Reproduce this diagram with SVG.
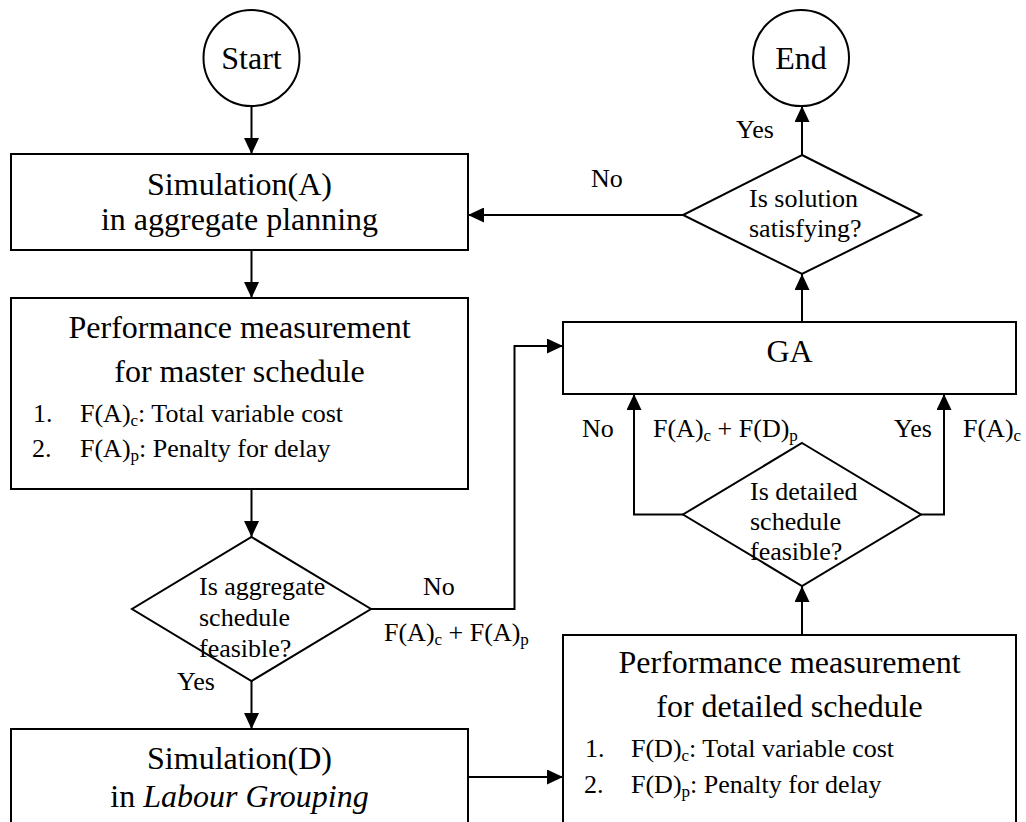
<svg xmlns="http://www.w3.org/2000/svg" width="1026" height="822" viewBox="0 0 1026 822">
  <defs>
    <marker id="arrow" markerUnits="userSpaceOnUse" markerWidth="16" markerHeight="15" refX="16" refY="7.5" orient="auto">
      <path d="M0,0 L16,7.5 L0,15 z" fill="#000"/>
    </marker>
    <style>
      .shape { fill: #fff; stroke: #000; stroke-width: 2; }
      .link { fill: none; stroke: #000; stroke-width: 2; }
      .arr { marker-end: url(#arrow); }
      text { font-family: "Liberation Serif", "Times New Roman", serif; fill: #000; }
      .big { font-size: 32px; }
      .mid { font-size: 26px; }
      .sub { font-size: 17px; }
      .c { text-anchor: middle; }
    </style>
  </defs>

  <rect width="1026" height="822" fill="#fff"/>

  <!-- connectors -->
  <g id="connectors">
    <line class="link arr" x1="251.5" y1="106" x2="251.5" y2="154"/>
    <line class="link arr" x1="251.5" y1="250" x2="251.5" y2="298"/>
    <line class="link arr" x1="251.5" y1="489" x2="251.5" y2="537"/>
    <line class="link arr" x1="251.5" y1="681" x2="251.5" y2="729"/>
    <polyline class="link arr" points="371,609 514.5,609 514.5,346 563,346"/>
    <line class="link arr" x1="468" y1="777" x2="563" y2="777"/>
    <line class="link arr" x1="802" y1="635" x2="802" y2="586"/>
    <polyline class="link arr" points="683,514.5 634,514.5 634,394"/>
    <polyline class="link arr" points="921,514.5 944,514.5 944,394"/>
    <line class="link arr" x1="802" y1="322" x2="802" y2="274"/>
    <line class="link arr" x1="683" y1="215" x2="468" y2="215"/>
    <line class="link arr" x1="802" y1="155" x2="802" y2="106"/>
    <!-- branch labels -->
    <text class="mid" x="423" y="595">No</text>
    <text class="mid" x="384" y="641">F(A)<tspan class="sub" dy="4">c</tspan><tspan dy="-4"> + F(A)</tspan><tspan class="sub" dy="4">p</tspan></text>
    <text class="mid" x="177" y="690">Yes</text>
    <text class="mid" x="582" y="437">No</text>
    <text class="mid" x="653" y="437">F(A)<tspan class="sub" dy="4">c</tspan><tspan dy="-4"> + F(D)</tspan><tspan class="sub" dy="4">p</tspan></text>
    <text class="mid" x="894" y="437">Yes</text>
    <text class="mid" x="963" y="437">F(A)<tspan class="sub" dy="4">c</tspan></text>
    <text class="mid" x="591" y="187">No</text>
    <text class="mid" x="736" y="138">Yes</text>
  </g>

  <g id="start">
    <circle class="shape" cx="251.5" cy="58" r="48"/>
    <text class="big c" x="251.5" y="69">Start</text>
  </g>

  <g id="end">
    <circle class="shape" cx="801" cy="58" r="48"/>
    <text class="big c" x="801" y="69">End</text>
  </g>

  <g id="simulation-a">
    <rect class="shape" x="11" y="154" width="457" height="96"/>
    <text class="big c" x="239.5" y="195">Simulation(A)</text>
    <text class="big c" x="239.5" y="230">in aggregate planning</text>
  </g>

  <g id="performance-master">
    <rect class="shape" x="11" y="298" width="457" height="191"/>
    <text class="big c" x="239.5" y="338">Performance measurement</text>
    <text class="big c" x="239.5" y="382">for master schedule</text>
    <text class="mid" x="33" y="422">1.</text>
    <text class="mid" x="80" y="422">F(A)<tspan class="sub" dy="4">c</tspan><tspan dy="-4">: Total variable cost</tspan></text>
    <text class="mid" x="32" y="457">2.</text>
    <text class="mid" x="80" y="457">F(A)<tspan class="sub" dy="4">p</tspan><tspan dy="-4">: Penalty for delay</tspan></text>
  </g>

  <g id="aggregate-feasible">
    <polygon class="shape" points="251.5,537 371,609 251.5,681 132,609"/>
    <text class="mid" x="199" y="595">Is aggregate</text>
    <text class="mid" x="199" y="626">schedule</text>
    <text class="mid" x="199" y="657">feasible?</text>
  </g>

  <g id="simulation-d">
    <rect class="shape" x="11" y="729" width="457" height="120"/>
    <text class="big c" x="239.5" y="769">Simulation(D)</text>
    <text class="big c" x="239.5" y="807">in <tspan font-style="italic">Labour Grouping</tspan></text>
  </g>

  <g id="performance-detailed">
    <rect class="shape" x="563" y="635" width="453" height="220"/>
    <text class="big c" x="789.5" y="673">Performance measurement</text>
    <text class="big c" x="789.5" y="717">for detailed schedule</text>
    <text class="mid" x="585" y="757">1.</text>
    <text class="mid" x="631" y="757">F(D)<tspan class="sub" dy="4">c</tspan><tspan dy="-4">: Total variable cost</tspan></text>
    <text class="mid" x="584" y="793">2.</text>
    <text class="mid" x="631" y="793">F(D)<tspan class="sub" dy="4">p</tspan><tspan dy="-4">: Penalty for delay</tspan></text>
  </g>

  <g id="detailed-feasible">
    <polygon class="shape" points="802,443 921,514.5 802,586 683,514.5"/>
    <text class="mid" x="750" y="500">Is detailed</text>
    <text class="mid" x="750" y="530">schedule</text>
    <text class="mid" x="750" y="560">feasible?</text>
  </g>

  <g id="ga">
    <rect class="shape" x="563" y="322" width="453" height="72"/>
    <text class="big c" x="789.5" y="362">GA</text>
  </g>

  <g id="solution-satisfying">
    <polygon class="shape" points="802,155 921,215 802,274 683,215"/>
    <text class="mid" x="749" y="207">Is solution</text>
    <text class="mid" x="749" y="237">satisfying?</text>
  </g>
</svg>
